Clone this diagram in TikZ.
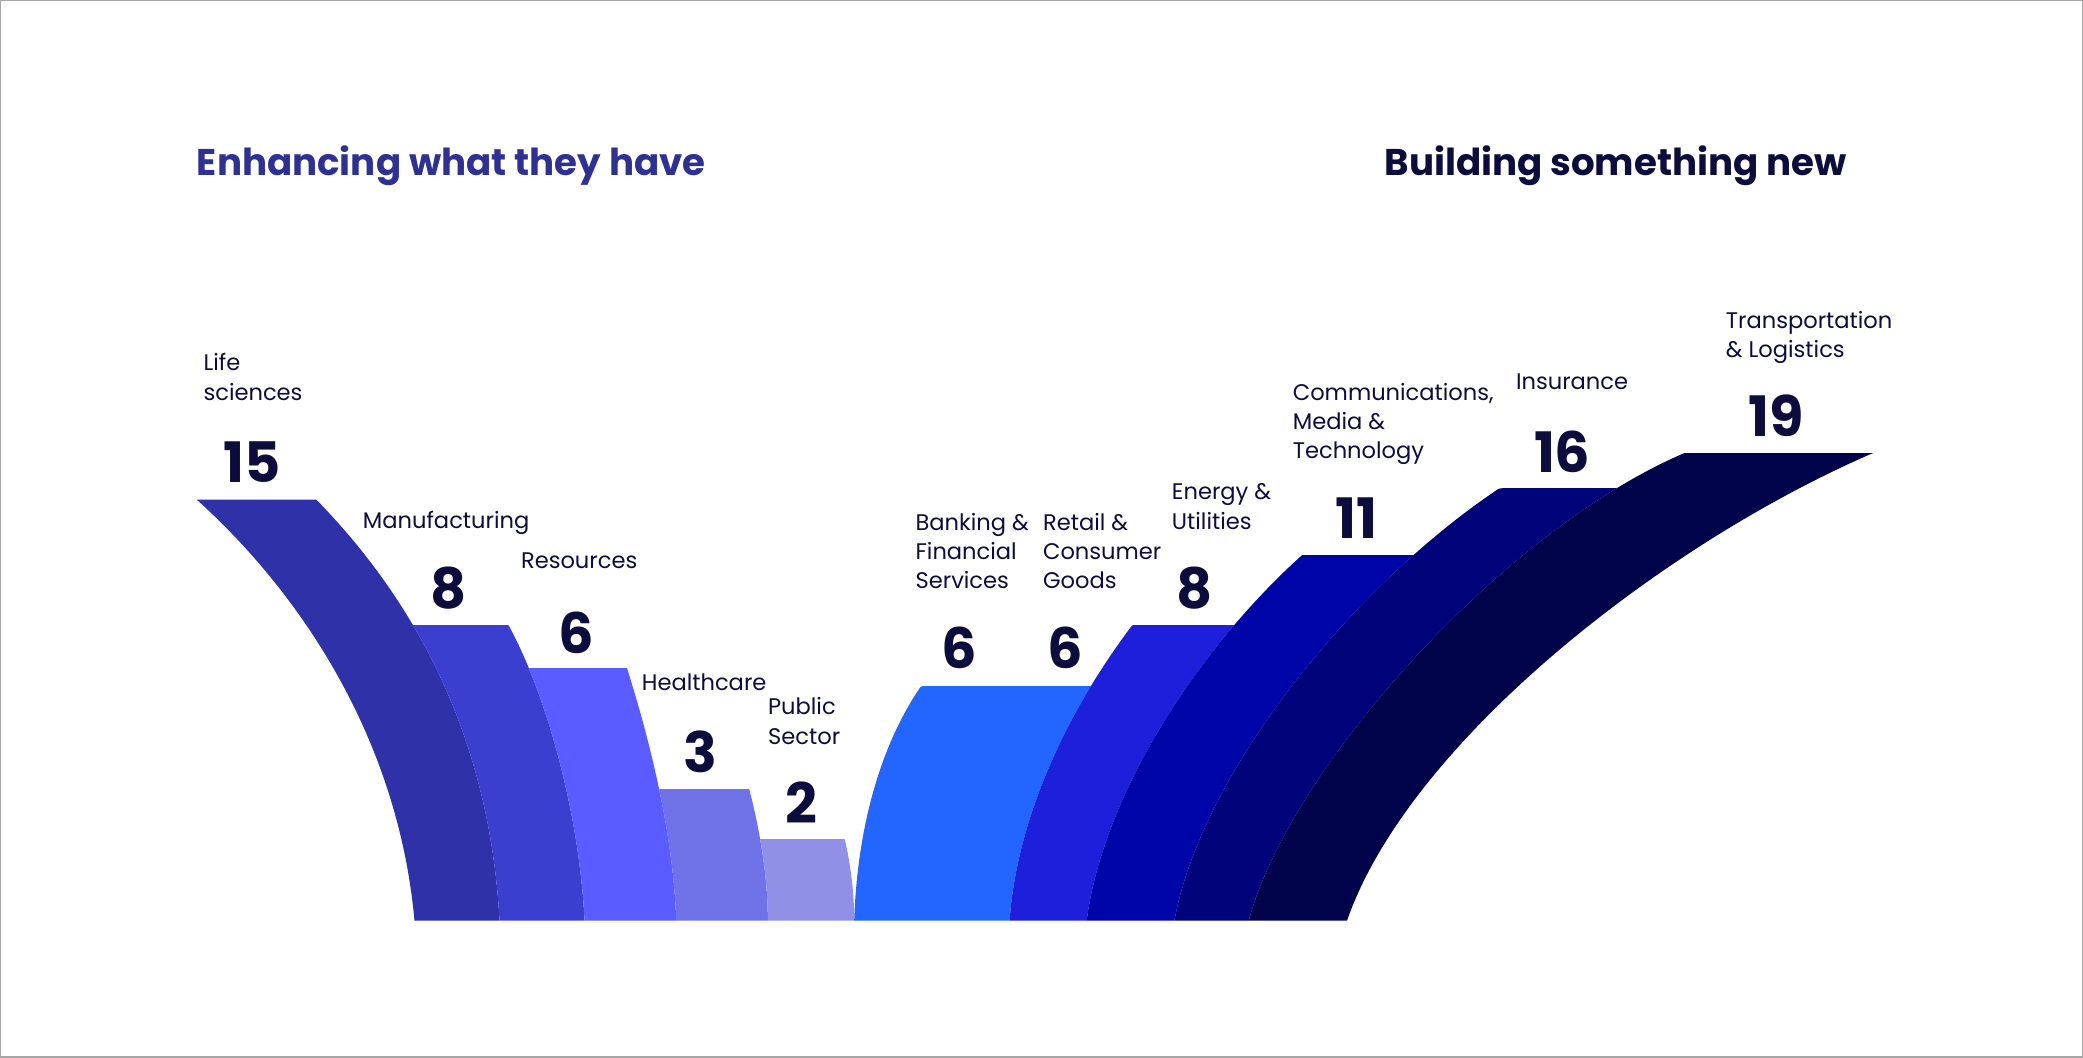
\documentclass[tikz,border=0pt]{standalone}
\usepackage{fontspec}
\setmainfont{Poppins}
\definecolor{cLife}{HTML}{2E31A8}
\definecolor{cManu}{HTML}{3B3FD0}
\definecolor{cRes}{HTML}{5A5CFF}
\definecolor{cHealth}{HTML}{7073E8}
\definecolor{cPub}{HTML}{8F90E6}
\definecolor{cBank}{HTML}{2266FF}
\definecolor{cEnergy}{HTML}{1D1FDB}
\definecolor{cComm}{HTML}{0005A8}
\definecolor{cIns}{HTML}{00037A}
\definecolor{cTrans}{HTML}{00034A}
\definecolor{txt}{HTML}{0D0D3D}
\definecolor{titleL}{HTML}{2E3192}
\begin{document}
\begin{tikzpicture}[x=1pt,y=-1pt,
  lab/.style={anchor=north west,align=left,text=txt,font=\fontsize{17}{22}\selectfont,inner sep=0pt},
  num/.style={text=txt,font=\fontsize{42}{42}\selectfont\bfseries,inner sep=0pt},
  ttl/.style={anchor=west,font=\fontsize{28}{30}\selectfont\bfseries,inner sep=0pt}]
\useasboundingbox (0,0) rectangle (1568,796);
\draw[gray!70,line width=1.5pt] (0,0) rectangle (1568,796);
% left bands
\begin{scope}\clip (0,376) rectangle (1568,693);
\fill[cLife] (148,376) .. controls (230,450) and (300,560) .. (312,693) -- (376,693) .. controls (370,580) and (330,470) .. (238,376) -- cycle;\end{scope}
\begin{scope}\clip (0,471) rectangle (1568,693);
\fill[cManu] (238,376) .. controls (330,470) and (370,580) .. (376,693) -- (440,693) .. controls (436,610) and (410,520) .. (383,471) -- cycle;\end{scope}
\begin{scope}\clip (0,503) rectangle (1568,693);
\fill[cRes] (383,471) .. controls (410,520) and (436,610) .. (440,693) -- (509,693) .. controls (507,630) and (490,560) .. (472,503) -- cycle;\end{scope}
\begin{scope}\clip (0,594) rectangle (1568,693);
\fill[cHealth] (472,503) .. controls (490,560) and (507,630) .. (509,693) -- (578,693) .. controls (578,660) and (572,625) .. (564,594) -- cycle;\end{scope}
\begin{scope}\clip (0,632) rectangle (1568,693);
\fill[cPub] (564,594) .. controls (572,625) and (578,660) .. (578,693) -- (643,693) .. controls (643,670) and (640,650) .. (636,632) -- cycle;\end{scope}
% right bands
\begin{scope}\clip (0,517) rectangle (1568,693);
\fill[cBank] (693,517) .. controls (660,565) and (645,630) .. (643,693) -- (760,693) .. controls (765,620) and (800,540) .. (852,471) -- cycle;\end{scope}
\begin{scope}\clip (0,471) rectangle (1568,693);
\fill[cEnergy] (852,471) .. controls (800,540) and (765,620) .. (760,693) -- (818,693) .. controls (830,600) and (900,490) .. (980,418) -- cycle;\end{scope}
\begin{scope}\clip (0,418) rectangle (1568,693);
\fill[cComm] (980,418) .. controls (900,490) and (830,600) .. (818,693) -- (884,693) .. controls (905,580) and (1020,440) .. (1128,368) -- cycle;\end{scope}
\begin{scope}\clip (0,368) rectangle (1568,693);
\fill[cIns] (1128,368) .. controls (1020,440) and (905,580) .. (884,693) -- (940,693) .. controls (970,580) and (1130,400) .. (1268,341) -- cycle;\end{scope}
\begin{scope}\clip (0,341) rectangle (1568,693);
\fill[cTrans] (1268,341) .. controls (1130,400) and (970,580) .. (940,693) -- (1014,693) .. controls (1060,560) and (1250,410) .. (1410,341) -- cycle;\end{scope}
% titles
\node[ttl,text=titleL] (tl) at (148,125) {Enhancing what they have};
\node[ttl,text=txt] (tr) at (1042,125) {Building something new};
% numbers
\node[num] (n1) at (190,348) {15};
\node[num] (n2) at (338,443) {8};
\node[num] (n3) at (434,476) {6};
\node[num] (n4) at (527,566) {3};
\node[num] (n5) at (603,604) {2};
\node[num] (n6) at (722,488) {6};
\node[num] (n7) at (802,488) {6};
\node[num] (n8) at (899,443) {8};
\node[num] (n9) at (1021,390) {11};
\node[num] (n10) at (1176,340) {16};
\node[num] (n11) at (1337,313) {19};
% labels
\node[lab] (l1) at (153,266) {Life\\sciences};
\node[lab] (l2) at (273,385) {Manufacturing};
\node[lab] (l3) at (392,416) {Resources};
\node[lab] (l4) at (483,507) {Healthcare};
\node[lab] (l5) at (578,525) {Public\\Sector};
\node[lab] (l6) at (689,386) {Banking \&\\Financial\\Services};
\node[lab] (l7) at (785,386) {Retail \&\\Consumer\\Goods};
\node[lab] (l8) at (882,364) {Energy \&\\Utilities};
\node[lab] (l9) at (973,288) {Communications,\\Media \&\\Technology};
\node[lab] (l10) at (1141,281) {Insurance};
\node[lab] (l11) at (1299,234) {Transportation\\\& Logistics};
\end{tikzpicture}
\end{document}
